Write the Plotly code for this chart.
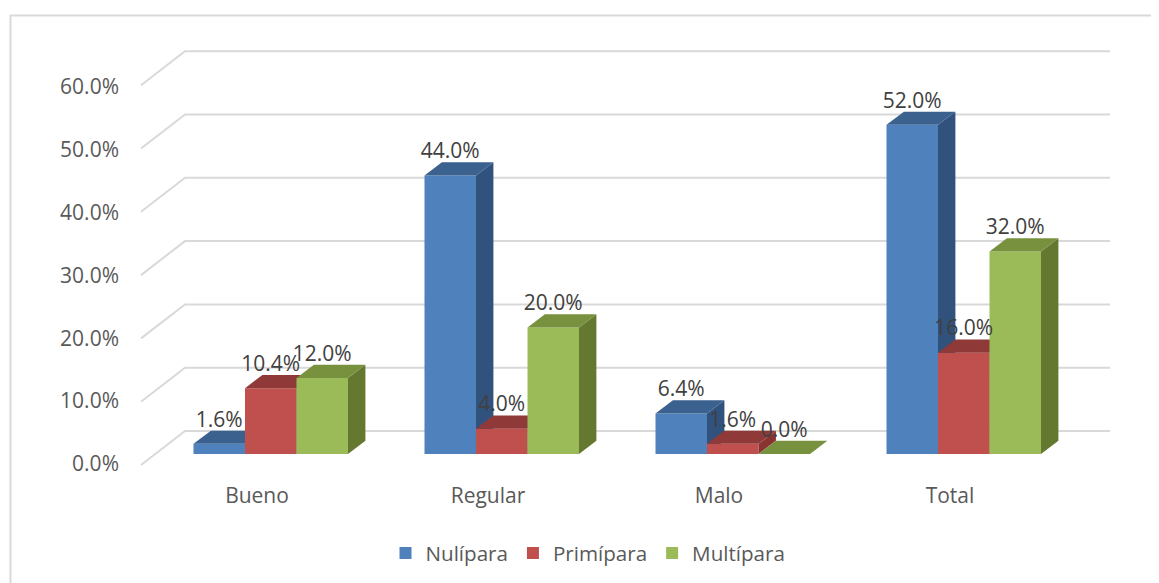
import plotly.graph_objects as go

categories = ["Bueno", "Regular", "Malo", "Total"]
nulipara = [1.6, 44.0, 6.4, 52.0]
primipara = [10.4, 4.0, 1.6, 16.0]
multipara = [12.0, 20.0, 0.0, 32.0]
y_ticks = [0, 10, 20, 30, 40, 50, 60]

series = [
    ("Nulípara", nulipara, "#4F81BD", "#31527D", "#3B628F"),
    ("Primípara", primipara, "#C0504D", "#8A3432", "#8F3A38"),
    ("Multípara", multipara, "#9BBB59", "#64782F", "#78913F"),
]

# the page adds an 8 px body margin; geometry below is in page pixels
PAGE = 8
W, H = 1159 - PAGE, 620
PX_X = 231.0
PX_Y = 6.33
L, R, T, B = 130, 1130, 30, 480
X0 = 257.0
Y0 = 454.0
x_range = [(L - X0) / PX_X, (R - X0) / PX_X]
y_range = [(Y0 - B) / PX_Y, (Y0 - T) / PX_Y]
bar_w = 51.5 / PX_X
shift0 = (193.5 - X0) / PX_X
dx = 17.4 / PX_X
dy = 13.2 / PX_Y
wall_back_x = (185 - X0) / PX_X
wall_end_x = (1110 - X0) / PX_X
wall_front_x = (141 - X0) / PX_X
wall_back_y = (Y0 - 431) / PX_Y
wall_front_y = (Y0 - 465) / PX_Y
label_dy = 22.5 / PX_Y

fig = go.Figure()

# walls
gx, gy = [], []
for v in y_ticks:
    gx += [wall_front_x, wall_back_x, wall_end_x, None]
    gy += [v + wall_front_y, v + wall_back_y, v + wall_back_y, None]
fig.add_trace(go.Scatter(x=gx, y=gy, mode="lines", line=dict(color="#D9D9D9", width=2),
                         hoverinfo="skip", showlegend=False))

lx, ly, lt = [], [], []
for s, (name, vals, front, side, top) in enumerate(series):
    ax = str(s + 2)
    xa, ya = "x" + ax, "y" + ax
    lefts = [i + shift0 + s * bar_w for i in range(len(vals))]
    fig.add_trace(go.Bar(x=[a + bar_w / 2 for a in lefts], y=vals, width=bar_w, name=name,
                         marker=dict(color=front, line=dict(width=0)),
                         xaxis=xa, yaxis=ya, hoverinfo="skip"))
    tx, ty, sx, sy = [], [], [], []
    for a, v in zip(lefts, vals):
        b = a + bar_w
        tx += [a, b, b + dx, a + dx, a, None]
        ty += [v, v, v + dy, v + dy, v, None]
        sx += [b, b + dx, b + dx, b, b, None]
        sy += [0, dy, v + dy, v, 0, None]
        lx.append(a + bar_w / 2)
        ly.append(v + label_dy)
        lt.append(f"{v:.1f}%")
    fig.add_trace(go.Scatter(x=sx, y=sy, mode="lines", fill="toself", fillcolor=side,
                             line=dict(width=0, color=side), xaxis=xa, yaxis=ya,
                             hoverinfo="skip", showlegend=False))
    fig.add_trace(go.Scatter(x=tx, y=ty, mode="lines", fill="toself", fillcolor=top,
                             line=dict(width=0, color=top), xaxis=xa, yaxis=ya,
                             hoverinfo="skip", showlegend=False))

fig.add_trace(go.Scatter(x=lx, y=ly, text=lt, mode="text", textposition="middle center",
                         textfont=dict(family="Open Sans", size=21, color="#404040"),
                         xaxis="x4", yaxis="y4", hoverinfo="skip", showlegend=False))

layout = dict(
    width=W, height=H,
    margin=dict(l=L - PAGE, r=W - (R - PAGE), t=T - PAGE, b=H - (B - PAGE), pad=0),
    paper_bgcolor="white", plot_bgcolor="rgba(0,0,0,0)",
    font=dict(family="Open Sans", size=21, color="#595959"),
    showlegend=True,
    legend=dict(orientation="h", x=0.458, xanchor="center", y=-0.118, yanchor="top",
                font=dict(size=20.6, color="#595959"), traceorder="normal"),
    xaxis=dict(range=x_range, tickmode="array", tickvals=list(range(len(categories))),
               ticktext=categories, showgrid=False, zeroline=False, showline=False, ticks="",
               ticklabelstandoff=1),
    yaxis=dict(range=y_range, tickmode="array", tickvals=[v * 0.992 - 1.54 for v in y_ticks],
               ticktext=[f"{v:.1f}%" for v in y_ticks], showgrid=False, zeroline=False,
               showline=False, ticks="", ticklabelstandoff=10),
    shapes=[dict(type="rect", xref="paper", yref="paper",
                 x0=(10.5 - L) / (R - L), x1=(1175 - L) / (R - L),
                 y0=(B - 640) / (B - T), y1=(B - 15.5) / (B - T),
                 line=dict(color="#D9D9D9", width=2), layer="below")],
)
for k in (2, 3, 4):
    layout[f"xaxis{k}"] = dict(range=x_range, overlaying="x", visible=False)
    layout[f"yaxis{k}"] = dict(range=y_range, overlaying="y", visible=False)
fig.update_layout(**layout)

fig.write_html("out.html")
